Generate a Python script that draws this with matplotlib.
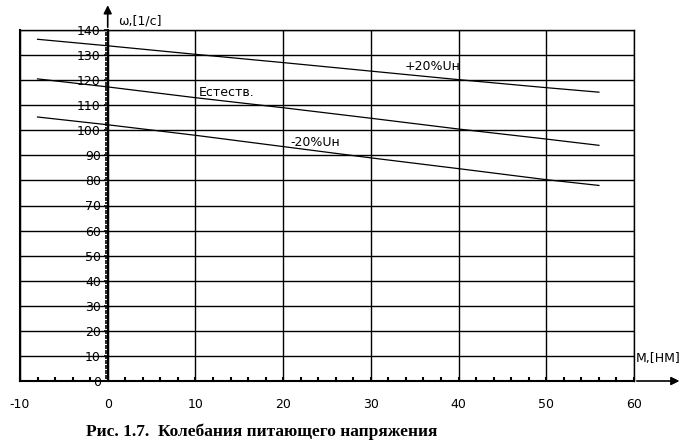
import numpy as np
import matplotlib.pyplot as plt
from matplotlib.ticker import MultipleLocator

plt.rcParams['axes.unicode_minus'] = False

# значения
M = [-8, 0, 10, 20, 30, 40, 50, 56]
w_plus20 = [136.3, 133.7, 130.3, 127.0, 123.6, 120.2, 117.0, 115.2]
w_nat = [120.5, 117.3, 113.0, 109.0, 104.8, 100.5, 96.5, 94.0]
w_minus20 = [105.3, 102.2, 98.0, 93.5, 89.0, 84.7, 80.3, 78.0]

labels = ['+20%Uн', 'Естеств.', '-20%Uн']
label_pos = [(33.8, 125.3), (10.4, 115.0), (20.8, 95.0)]

fig = plt.figure(figsize=(6.9, 4.43), dpi=100)
ax = fig.add_axes([20/690, (443-381)/443, 614/690, 351/443])

ax.set_xlim(-10, 60)
ax.set_ylim(0, 140)

for ys in (w_plus20, w_nat, w_minus20):
    ax.plot(M, ys, color='black', lw=0.9)

for t, (x, y) in zip(labels, label_pos):
    ax.text(x, y, t, fontsize=9, va='center', ha='left')

ax.xaxis.set_major_locator(MultipleLocator(10))
ax.xaxis.set_minor_locator(MultipleLocator(2))
ax.yaxis.set_major_locator(MultipleLocator(10))
ax.yaxis.set_minor_locator(MultipleLocator(1))
ax.grid(True, which='major', color='black', lw=1)

ax.spines['left'].set_position(('data', 0))
ax.spines['left'].set_linewidth(1.5)
ax.spines['bottom'].set_linewidth(1.5)
for s in ('top', 'right'):
    ax.spines[s].set_linewidth(1)
ax.axvline(-10, color='black', lw=1.5, clip_on=False)

ax.tick_params(which='both', color='black', labelsize=9)
ax.tick_params(axis='x', which='both', direction='in', length=3, width=1.5, pad=12)
ax.tick_params(axis='y', which='major', direction='out', length=3, width=1.2, pad=2)
ax.tick_params(axis='y', which='minor', direction='out', length=2.5, width=1.2)

# стрелки осей
ax.annotate('', xy=(65.5, 0), xytext=(60, 0), annotation_clip=False,
            arrowprops=dict(arrowstyle='-|>', color='black', lw=1.2, mutation_scale=12))
ax.annotate('', xy=(0, 151), xytext=(0, 140), annotation_clip=False,
            arrowprops=dict(arrowstyle='-|>', color='black', lw=1.2, mutation_scale=12))

ax.text(1.2, 143.5, 'ω,[1/с]', fontsize=9, ha='left', va='center', clip_on=False)
ax.text(60.2, 9.0, 'M,[НМ]', fontsize=9, ha='left', va='center', clip_on=False)

fig.text(262/690, 1 - 432/443, 'Рис. 1.7.  Колебания питающего напряжения',
         family='Liberation Serif', fontweight='bold', fontsize=12.5, ha='center', va='center')

fig.savefig('out.png', dpi=100)
